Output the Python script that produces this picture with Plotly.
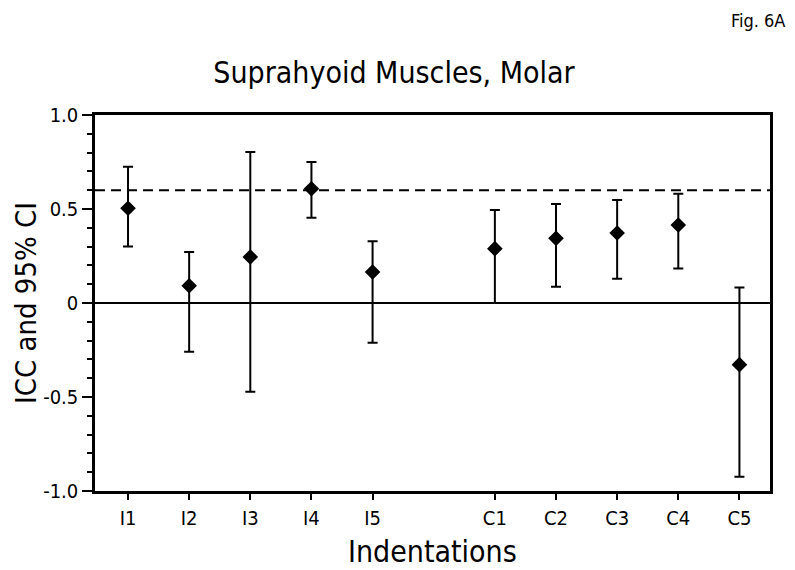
import plotly.graph_objects as go

# ICC estimates with 95% confidence limits per indentation
labels = ["I1", "I2", "I3", "I4", "I5", "C1", "C2", "C3", "C4", "C5"]
positions = [1, 2, 3, 4, 5, 7, 8, 9, 10, 11]
icc = [0.504, 0.092, 0.245, 0.608, 0.165, 0.289, 0.344, 0.372, 0.415, -0.328]
ci_upper = [0.725, 0.271, 0.803, 0.750, 0.328, 0.495, 0.527, 0.548, 0.581, 0.083]
ci_lower = [0.300, -0.259, -0.472, 0.454, -0.211, 0.000, 0.087, 0.129, 0.184, -0.924]
threshold = 0.6

FONT = "DejaVu Sans Condensed, DejaVu Sans"

fig = go.Figure()

fig.add_trace(go.Scatter(
    x=positions,
    y=icc,
    mode='markers',
    marker=dict(symbol='diamond', size=12, color='black'),
    error_y=dict(
        type='data',
        symmetric=False,
        array=[u - v for u, v in zip(ci_upper, icc)],
        arrayminus=[v - l for v, l in zip(icc, ci_lower)],
        color='black',
        thickness=2,
        width=5
    ),
    showlegend=False
))

# reference line at ICC = 0.6
fig.add_shape(type='line', xref='paper', x0=0, x1=1, yref='y', y0=threshold, y1=threshold,
              line=dict(color='black', width=2, dash='10px,6px'))

# page body has an 8px margin, so the figure is made 8px smaller
fig.update_layout(
    width=787,
    height=562,
    margin=dict(l=87, r=25, t=107, b=79),
    plot_bgcolor='white',
    paper_bgcolor='white',
    font=dict(family=FONT, color='black'),
    title=dict(text='Suprahyoid Muscles, Molar', x=386 / 787, xref='container', xanchor='center',
               y=1 - 64 / 562, yref='container', yanchor='middle',
               font=dict(size=30, family=FONT, color='black')),
    xaxis=dict(
        range=[0.46, 11.5],
        tickvals=positions,
        ticktext=labels,
        ticks='outside', ticklen=6, tickwidth=2, tickcolor='black',
        showline=True, linewidth=2.5, linecolor='black', mirror=True,
        showgrid=False, zeroline=False,
        tickfont=dict(size=20, family=FONT),
        ticklabelstandoff=1
    ),
    yaxis=dict(
        range=[-1.0, 1.0],
        tickvals=[-1.0, -0.5, 0, 0.5, 1.0],
        ticktext=['-1.0', '-0.5', '0', '0.5', '1.0'],
        ticks='outside', ticklen=10, tickwidth=2, tickcolor='black',
        minor=dict(dtick=0.1, ticks='outside', ticklen=5, tickwidth=2, tickcolor='black'),
        showline=True, linewidth=2.5, linecolor='black', mirror=True,
        showgrid=False,
        zeroline=True, zerolinecolor='black', zerolinewidth=2,
        tickfont=dict(size=20, family=FONT)
    ),
    annotations=[
        dict(text='ICC and 95% CI', xref='paper', yref='paper', x=-0.1022, y=0.5,
             textangle=-90, showarrow=False, xanchor='center', yanchor='middle',
             font=dict(size=29, family=FONT)),
        dict(text='Indentations', xref='paper', yref='paper', x=0.5, y=-0.1596,
             showarrow=False, xanchor='center', yanchor='middle',
             font=dict(size=30, family=FONT)),
        dict(text='Fig. 6A', xref='paper', yref='paper', x=0.982, y=1.252,
             showarrow=False, xanchor='center', yanchor='middle',
             font=dict(size=18, family=FONT)),
    ]
)

fig.write_html("out.html")
